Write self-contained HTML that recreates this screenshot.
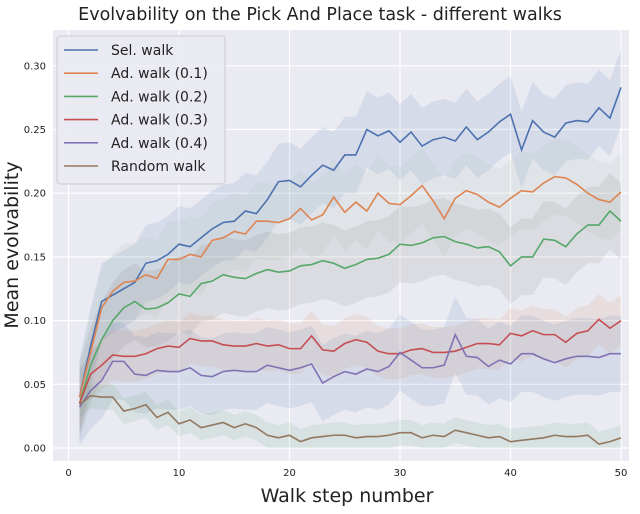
<!DOCTYPE html>
<html><head><meta charset="utf-8"><style>
body{margin:0;background:#fff;width:640px;height:509px;overflow:hidden}
svg text{font-family:"DejaVu Sans","Liberation Sans",sans-serif}
</style></head><body>
<svg id="c" width="640" height="509"></svg>
<script>
const steps = Array.from({length:50},(_,i)=>i+1);
const seriesNames = ["Sel. walk","Ad. walk (0.1)","Ad. walk (0.2)","Ad. walk (0.3)","Ad. walk (0.4)","Random walk"];
const selWalk = [0.04,0.08,0.115,0.12,0.125,0.13,0.145,0.147,0.152,0.16,0.158,0.165,0.172,0.177,0.178,0.186,0.184,0.195,0.209,0.21,0.205,0.214,0.222,0.218,0.23,0.23,0.25,0.245,0.249,0.24,0.248,0.237,0.242,0.244,0.241,0.252,0.242,0.248,0.256,0.262,0.234,0.257,0.248,0.244,0.255,0.257,0.256,0.267,0.259,0.283];
const adWalk01 = [0.04,0.075,0.11,0.123,0.13,0.131,0.136,0.133,0.148,0.148,0.152,0.15,0.163,0.165,0.17,0.168,0.178,0.178,0.177,0.18,0.188,0.179,0.183,0.197,0.185,0.193,0.186,0.2,0.192,0.191,0.198,0.206,0.194,0.18,0.196,0.202,0.199,0.193,0.189,0.196,0.202,0.201,0.208,0.213,0.212,0.207,0.2,0.195,0.193,0.201];
const adWalk02 = [0.035,0.065,0.085,0.1,0.11,0.115,0.109,0.11,0.114,0.121,0.119,0.129,0.131,0.136,0.134,0.133,0.137,0.14,0.138,0.139,0.143,0.144,0.147,0.145,0.141,0.144,0.148,0.149,0.152,0.16,0.159,0.161,0.165,0.166,0.162,0.16,0.157,0.158,0.154,0.143,0.15,0.15,0.164,0.163,0.158,0.168,0.175,0.175,0.186,0.178];
const adWalk03 = [0.035,0.058,0.065,0.073,0.072,0.072,0.074,0.078,0.08,0.079,0.086,0.084,0.084,0.081,0.08,0.08,0.082,0.08,0.081,0.078,0.078,0.088,0.077,0.076,0.082,0.085,0.083,0.076,0.074,0.074,0.077,0.078,0.075,0.075,0.076,0.079,0.082,0.082,0.081,0.09,0.088,0.092,0.089,0.089,0.083,0.09,0.092,0.101,0.094,0.1];
const adWalk04 = [0.032,0.045,0.053,0.068,0.068,0.058,0.057,0.061,0.06,0.06,0.063,0.057,0.056,0.06,0.061,0.06,0.06,0.065,0.063,0.061,0.063,0.066,0.051,0.056,0.06,0.058,0.062,0.06,0.064,0.075,0.069,0.063,0.063,0.065,0.089,0.072,0.071,0.064,0.069,0.066,0.074,0.074,0.07,0.067,0.07,0.072,0.072,0.071,0.074,0.074];
const randomWalk = [0.034,0.041,0.04,0.04,0.029,0.031,0.034,0.024,0.028,0.019,0.022,0.016,0.018,0.02,0.016,0.019,0.016,0.01,0.008,0.01,0.005,0.008,0.009,0.01,0.01,0.008,0.009,0.009,0.01,0.012,0.012,0.008,0.01,0.009,0.014,0.012,0.01,0.008,0.009,0.005,0.006,0.007,0.008,0.01,0.009,0.009,0.01,0.003,0.005,0.008];
const bandSpread = [0.03,0.03,0.03,0.02,0.03,0.01];
const xTicks = [0,10,20,30,40,50];
const yTicks = [0,0.05,0.10,0.15,0.20,0.25,0.30];
const yTickLabels = ["0.00","0.05","0.10","0.15","0.20","0.25","0.30"];
const colors = ["#4c72b0","#dd8452","#55a868","#c44e52","#8172b3","#937860"];
const bandColors = ["#4c72b0","#9fbfa8","#707070","#dd8452","#4c72b0","#55a868"];
const allSeries=[selWalk,adWalk01,adWalk02,adWalk03,adWalk04,randomWalk];
const NS="http://www.w3.org/2000/svg";
const svg=document.getElementById('c');
const L=53,R=629,T=30,B=461;
const xs=v=>68.5+v*11.05;
const ys=v=>448-v*1274;
function mk(tag,attrs,parent){const e=document.createElementNS(NS,tag);for(const k in attrs)e.setAttribute(k,attrs[k]);(parent||svg).appendChild(e);return e;}
const bg=mk('rect',{x:L,y:T,width:R-L,height:B-T,fill:'#eaeaf2'});


xTicks.forEach(t=>{const g=mk('line',{x1:xs(t),x2:xs(t),y1:T,y2:B,stroke:'#fff','stroke-width':1.2});


const tx=mk('text',{x:xs(t),y:476,'font-size':10,'text-anchor':'middle',fill:'#222'});tx.textContent=t;

});
yTicks.forEach((t,i)=>{const g=mk('line',{x1:L,x2:R,y1:ys(t),y2:ys(t),stroke:'#fff','stroke-width':1.2});


const tx=mk('text',{x:46,y:ys(t)+3.5,'font-size':10,'text-anchor':'end',fill:'#222'});tx.textContent=yTickLabels[i];

});
allSeries.forEach((s,k)=>{
 const up=s.map((v,i)=>xs(steps[i])+','+ys(v+bandSpread[k])).join(' ');
 const dn=s.map((v,i)=>xs(steps[i])+','+ys(Math.max(0,v-bandSpread[k]))).reverse().join(' ');
 const p=mk('polygon',{points:up+' '+dn,fill:bandColors[k],'fill-opacity':0.12});
 
 
});
allSeries.forEach((s,k)=>{
 const l=mk('polyline',{points:s.map((v,i)=>xs(steps[i])+','+ys(v)).join(' '),fill:'none',stroke:colors[k],'stroke-width':1.6});
 
 
});
const lg=mk('rect',{x:57,y:36,width:168,height:148,rx:3,fill:'#eaeaf2','fill-opacity':0.85,stroke:'#ccc'});


seriesNames.forEach((n,k)=>{const y=50+k*23.2;
 const ln=mk('line',{x1:64,x2:98,y1:y,y2:y,stroke:colors[k],'stroke-width':1.6});
 
 
 const t=mk('text',{x:111,y:y+5,'font-size':14,fill:'#222'});t.textContent=n;
 
 });
const ti=mk('text',{x:320,y:20,'font-size':17.5,'text-anchor':'middle',fill:'#222'});ti.textContent='Evolvability on the Pick And Place task - different walks';


const xl=mk('text',{x:347,y:502,'font-size':19,'text-anchor':'middle',fill:'#222'});xl.textContent='Walk step number';


const yl=mk('text',{x:0,y:0,'font-size':19,'text-anchor':'middle',fill:'#222',transform:'translate(18,245) rotate(-90)'});yl.textContent='Mean evolvability';


</script>
</body></html>
